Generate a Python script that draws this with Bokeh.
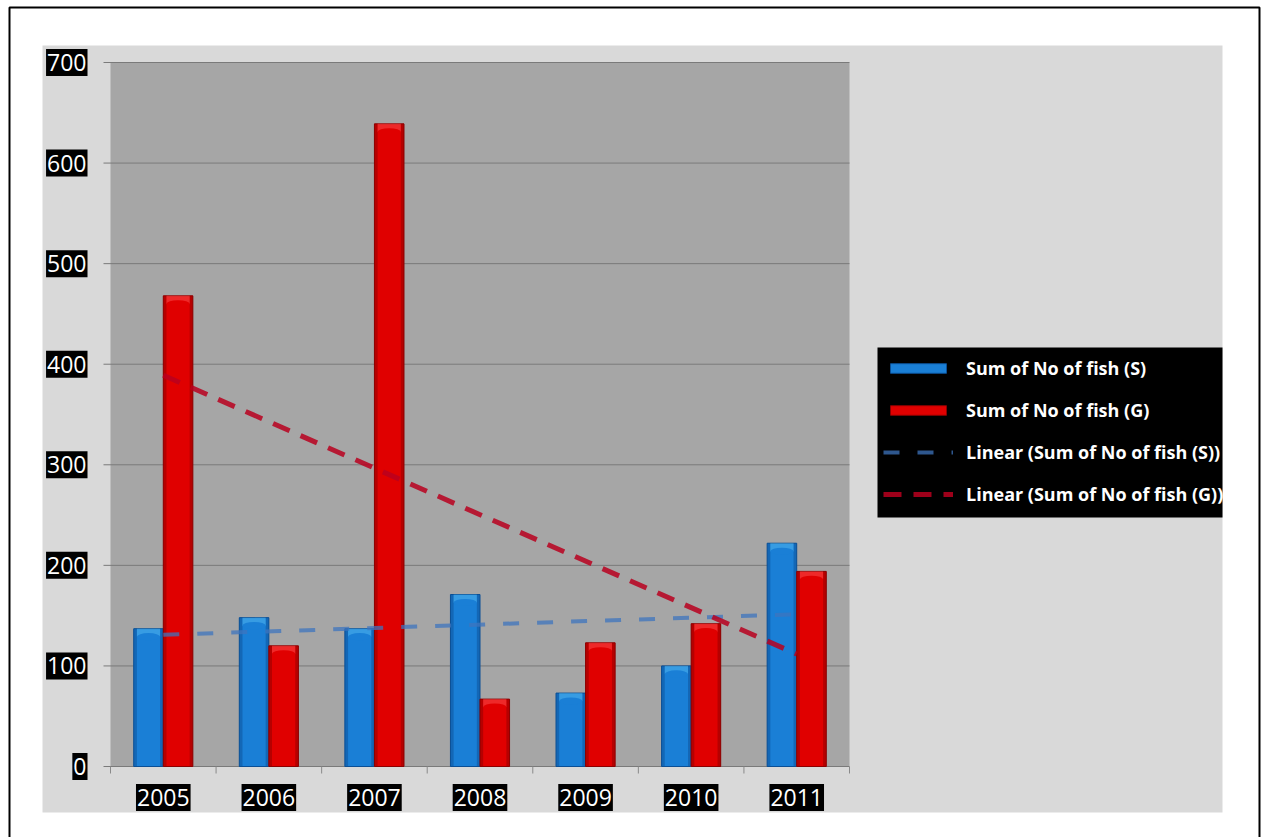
import numpy as np
from bokeh.plotting import figure
from bokeh.models import ColumnDataSource, Legend, LegendItem, Range1d
from bokeh.transform import dodge
from bokeh.core.properties import value
from bokeh.embed import file_html
from bokeh.resources import INLINE

# ---- data ----
years = ["2005", "2006", "2007", "2008", "2009", "2010", "2011"]
fish_s = [137, 148, 137, 171, 73, 100, 222]
fish_g = [468, 120, 639, 67, 123, 142, 194]
y_ticks = [0, 100, 200, 300, 400, 500, 600, 700]
series_labels = ["Sum of No of fish (S)", "Sum of No of fish (G)"]
trend_labels = ["Linear (Sum of No of fish (S))", "Linear (Sum of No of fish (G))"]

# ---- page layout (pixels) ----
W, H = 1262, 837
BORDER_L, BORDER_R, BORDER_T = 9, 1259, 7                 # black page border
AREA_L, AREA_R, AREA_T, AREA_B = 110, 849, 62, 766        # plot area
PANEL_L, PANEL_R, PANEL_T, PANEL_B = 42, 1222, 45, 812    # light grey chart panel
LEG_L, LEG_R, LEG_T, LEG_B = 877, 1222, 347, 517          # legend box
Y_MAX = 700

n = len(years)
xu = n / (AREA_R - AREA_L)          # data units per pixel along x
yu = Y_MAX / (AREA_B - AREA_T)      # data units per pixel along y


def px_x(px):
    return -0.5 + (px - AREA_L) * xu


def px_y(py):
    return (AREA_B - py) * yu


p = figure(
    width=W, height=H,
    x_range=Range1d(px_x(0), px_x(W)),
    y_range=Range1d(px_y(H), px_y(0)),
    x_axis_type=None, y_axis_type=None,
    output_backend="svg", toolbar_location=None,
    min_border=0,
    background_fill_color="white", border_fill_color="white",
    outline_line_color=None,
)
p.grid.visible = False

FONT = value("Open Sans")

# page border (left, top, right)
p.line(x=[px_x(BORDER_L), px_x(BORDER_L), px_x(BORDER_R), px_x(BORDER_R)],
       y=[px_y(H + 5), px_y(BORDER_T), px_y(BORDER_T), px_y(H + 5)],
       line_color="black", line_width=2)

# chart panel and plot area
p.quad(left=[px_x(PANEL_L)], right=[px_x(PANEL_R)], top=[px_y(PANEL_T)], bottom=[px_y(PANEL_B)],
       fill_color="#d9d9d9", line_color=None)
p.quad(left=[-0.5], right=[n - 0.5], bottom=[0], top=[Y_MAX], fill_color="#a6a6a6", line_color=None)

# horizontal gridlines (extend a little to the left as tick marks)
grid_x0 = -0.5 - 7 * xu
p.segment(x0=grid_x0, x1=n - 0.5, y0=y_ticks, y1=y_ticks, line_color="#7a7a7a", line_width=1)
# category tick marks on the baseline
bounds = list(np.arange(n + 1) - 0.5)
p.segment(x0=bounds, x1=bounds, y0=0, y1=-7 * yu, line_color="#8a8a8a", line_width=1)

# legend backdrop (the legend box itself is clipped to the chart panel)
p.quad(left=[px_x(LEG_L)], right=[px_x(LEG_R)], top=[px_y(LEG_T)], bottom=[px_y(LEG_B)],
       fill_color="black", line_color=None)

# ---- bars with a simple cylinder-like shading ----
bw = 0.28
edge = 0.03
cap = 8 * yu
src = ColumnDataSource(dict(
    x=list(range(n)), s=fish_s, g=fish_g,
    s_cap=[v - cap for v in fish_s], g_cap=[v - cap for v in fish_g],
))

styles = [
    # column, offset, base, dark edge, light cap
    ("s", -bw / 2, "#1a7fd6", "#0b4f95", "#5cc0f5"),
    ("g", bw / 2, "#e00000", "#8c0000", "#ff5a5a"),
]
bar_renderers = []
for col, off, base, dark, light in styles:
    r = p.vbar(x=dodge("x", off, range=p.x_range), top=col, bottom=0, width=bw, source=src,
               fill_color=base, line_color=dark, line_width=1)
    bar_renderers.append(r)
    p.vbar(x=dodge("x", off - bw / 2 + edge / 2, range=p.x_range), top=col, bottom=0, width=edge,
           source=src, fill_color=dark, fill_alpha=0.5, line_color=None)
    p.vbar(x=dodge("x", off + bw / 2 - edge / 2, range=p.x_range), top=col, bottom=0, width=edge,
           source=src, fill_color=dark, fill_alpha=0.5, line_color=None)
    p.vbar(x=dodge("x", off, range=p.x_range), top=col, bottom=col + "_cap", width=bw - 2 * edge,
           source=src, fill_color=light, fill_alpha=0.45, line_color=None)
    p.ellipse(x=dodge("x", off, range=p.x_range), y=col + "_cap", width=bw - 2 * edge,
              height=cap * 0.9, source=src, fill_color=base, line_color=None)

# ---- linear trend lines (least squares over the category index) ----
xi = np.arange(n)
trend_styles = [
    (fish_s, "#3d74bd", 0.75, 4, "16 18"),
    (fish_g, "#b8001f", 0.85, 5, "18 12"),
]
trend_renderers = []
for vals, color, alpha, lw, dash in trend_styles:
    k, b = np.polyfit(xi, vals, 1)
    r = p.line(x=[0, n - 1], y=[b, b + k * (n - 1)], line_color=color, line_alpha=alpha,
               line_width=lw, line_dash=dash)
    trend_renderers.append(r)

# ---- tick labels: white on black ----
p.text(x=-0.5, y=y_ticks, text=[str(t) for t in y_ticks], x_offset=-23,
       text_align="right", text_baseline="middle", text_color="white",
       text_font=FONT, text_font_size="23px",
       background_fill_color="black", padding=(1, 5))
p.text(x=list(range(n)), y=0, text=years, y_offset=31,
       text_align="center", text_baseline="middle", text_color="white",
       text_font=FONT, text_font_size="23px",
       background_fill_color="black", padding=(1, 5))

# ---- legend ----
ROW_H, ROW_GAP, GLYPH_W = 25, 17, 70
legend_h = 4 * ROW_H + 3 * ROW_GAP
legend = Legend(
    items=[
        LegendItem(label=series_labels[0], renderers=[bar_renderers[0]]),
        LegendItem(label=series_labels[1], renderers=[bar_renderers[1]]),
        LegendItem(label=trend_labels[0], renderers=[trend_renderers[0]]),
        LegendItem(label=trend_labels[1], renderers=[trend_renderers[1]]),
    ],
    location=(LEG_L + 6, H - (355 + legend_h)),
    background_fill_alpha=0.0,
    border_line_color=None,
    label_text_color="white", label_text_font="Open Sans",
    label_text_font_size="18px", label_text_font_style="bold",
    glyph_width=GLYPH_W, glyph_height=12, label_height=ROW_H, label_standoff=13,
    padding=0, spacing=ROW_GAP, margin=0,
)
p.add_layout(legend)

open("out.html", "w").write(file_html(p, INLINE))
